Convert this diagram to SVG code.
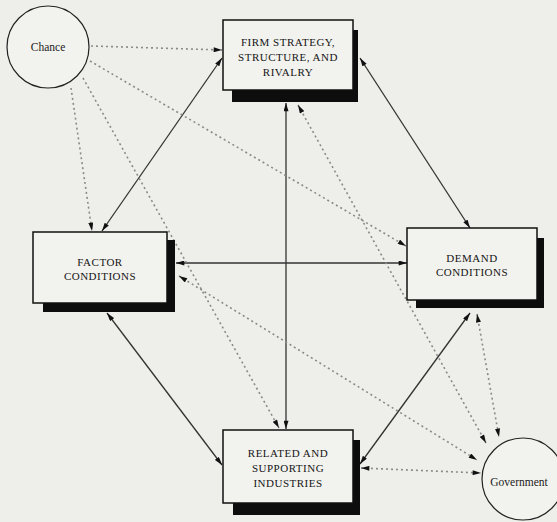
<svg xmlns="http://www.w3.org/2000/svg" width="557" height="522" viewBox="0 0 557 522">
<defs>
<marker id="ah" viewBox="0 0 10 6" refX="10" refY="3" markerWidth="9" markerHeight="5" markerUnits="userSpaceOnUse" orient="auto-start-reverse"><path d="M0,0 L10,3 L0,6 z" fill="#111"/></marker>
<style>
.bg{fill:#eeeeea}
.box{fill:#f2f2ee;stroke:#111;stroke-width:1.5}
.sh{fill:#0d0d0d}
.circ{fill:#f2f2ee;stroke:#222;stroke-width:1.2}
.t{font-family:"Liberation Serif","DejaVu Serif",serif;font-size:11px;letter-spacing:0.5px;fill:#151515;text-anchor:middle}
.ts{font-family:"Liberation Serif","DejaVu Serif",serif;font-size:11.5px;fill:#222;text-anchor:middle}
.solid{stroke:#333;stroke-width:1.3;fill:none;marker-start:url(#ah);marker-end:url(#ah)}
.dot{stroke:#8a8a8a;stroke-width:1.6;stroke-dasharray:2 3;fill:none}
.one{marker-end:url(#ah)}
.two{marker-start:url(#ah);marker-end:url(#ah)}
</style>
</defs>
<rect class="bg" x="0" y="0" width="557" height="522"/>
<g id="connectors">
<line class="solid" x1="222" y1="58" x2="102" y2="231"/>
<line class="solid" x1="360" y1="58" x2="470" y2="228"/>
<line class="solid" x1="286" y1="103" x2="286" y2="429"/>
<line class="solid" x1="176" y1="263" x2="407" y2="263"/>
<line class="solid" x1="107" y1="313" x2="222" y2="465"/>
<line class="solid" x1="470" y1="313" x2="360" y2="464"/>
<line class="dot one" x1="91" y1="46" x2="222" y2="50"/>
<line class="dot one" x1="71" y1="88" x2="92" y2="231"/>
<line class="dot one" x1="90" y1="61" x2="406" y2="246"/>
<line class="dot one" x1="83" y1="78" x2="279" y2="428"/>
<line class="dot two" x1="298" y1="105" x2="486" y2="443"/>
<line class="dot two" x1="179" y1="276" x2="477" y2="460"/>
<line class="dot two" x1="477" y1="314" x2="499" y2="437"/>
<line class="dot two" x1="361" y1="468" x2="481" y2="473"/>
</g>
<g id="chance">
<circle class="circ" cx="48" cy="47" r="41"/>
<text class="ts" x="48" y="51">Chance</text>
</g>
<g id="firm">
<rect class="sh" x="232" y="30" width="126" height="72"/>
<rect class="box" x="223" y="20" width="130" height="70"/>
<text class="t" x="288" y="46">FIRM STRATEGY,</text>
<text class="t" x="288" y="61">STRUCTURE, AND</text>
<text class="t" x="288" y="76">RIVALRY</text>
</g>
<g id="factor">
<rect class="sh" x="43" y="240" width="132" height="72"/>
<rect class="box" x="33" y="232" width="134" height="71"/>
<text class="t" x="100" y="266">FACTOR</text>
<text class="t" x="100" y="280">CONDITIONS</text>
</g>
<g id="demand">
<rect class="sh" x="416" y="238" width="128" height="70"/>
<rect class="box" x="407" y="228" width="130" height="72"/>
<text class="t" x="472" y="262">DEMAND</text>
<text class="t" x="472" y="276">CONDITIONS</text>
</g>
<g id="related">
<rect class="sh" x="233" y="440" width="127" height="75"/>
<rect class="box" x="223" y="430" width="130" height="73"/>
<text class="t" x="288" y="457">RELATED AND</text>
<text class="t" x="288" y="472">SUPPORTING</text>
<text class="t" x="288" y="487">INDUSTRIES</text>
</g>
<g id="government">
<circle class="circ" cx="523" cy="479" r="41"/>
<text class="ts" x="519" y="486">Government</text>
</g>
</svg>
